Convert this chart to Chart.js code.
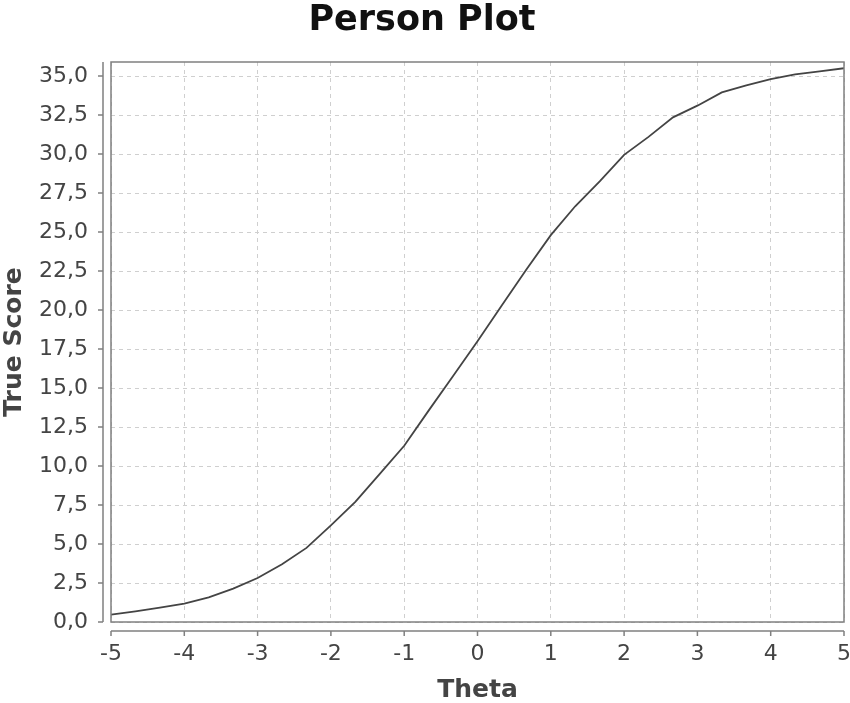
<!DOCTYPE html>
<html>
<head>
<meta charset="utf-8">
<title>Person Plot</title>
<script src="https://cdn.jsdelivr.net/npm/chart.js@4.4.1/dist/chart.umd.min.js"></script>
<style>
  html, body { margin: 0; padding: 0; background: #fff; }
  #wrap { width: 850px; height: 703px; }
</style>
</head>
<body>
<div id="wrap"><canvas id="chart" width="850" height="703"></canvas></div>
<script>
// theta grid (step 1/3) and true score
const theta = [
  -5, -4.667, -4.333, -4, -3.667, -3.333, -3, -2.667, -2.333, -2, -1.667,
  -1.333, -1, -0.667, -0.333, 0, 0.333, 0.667, 1, 1.333, 1.667,
  2, 2.333, 2.667, 3, 3.333, 3.667, 4, 4.333, 4.667, 5
];
const trueScore = [
  0.47, 0.68, 0.92, 1.18, 1.58, 2.14, 2.82, 3.7, 4.75, 6.2, 7.7,
  9.5, 11.3, 13.55, 15.77, 18.0, 20.3, 22.6, 24.8, 26.65, 28.25,
  29.95, 31.1, 32.35, 33.1, 33.95, 34.4, 34.8, 35.1, 35.3, 35.5
];
const xTicks = [-5, -4, -3, -2, -1, 0, 1, 2, 3, 4, 5];
const yTicks = [0, 2.5, 5, 7.5, 10, 12.5, 15, 17.5, 20, 22.5, 25, 27.5, 30, 32.5, 35];

const FONT = 'DejaVu Sans, Verdana, sans-serif';
const fmtComma = v => v.toFixed(1).replace('.', ',');

// JFreeChart-like frame: plot outline plus axis lines set off from the plot
const frameAxes = {
  id: 'frameAxes',
  afterDraw(chart) {
    const { ctx, chartArea: a, scales: { x, y } } = chart;
    ctx.save();
    ctx.strokeStyle = '#808080';
    ctx.lineWidth = 1.5;
    ctx.strokeRect(a.left, a.top, a.right - a.left, a.bottom - a.top);

    // y axis
    const yx = a.left - 8;
    ctx.beginPath();
    ctx.moveTo(yx, a.top);
    ctx.lineTo(yx, a.bottom);
    yTicks.forEach(v => {
      const py = y.getPixelForValue(v);
      ctx.moveTo(yx, py);
      ctx.lineTo(yx - 5, py);
    });
    // x axis
    const xy = a.bottom + 9;
    ctx.moveTo(a.left, xy);
    ctx.lineTo(a.right, xy);
    xTicks.forEach(v => {
      const px = x.getPixelForValue(v);
      ctx.moveTo(px, xy);
      ctx.lineTo(px, xy + 5);
    });
    ctx.stroke();
    ctx.restore();
  }
};

new Chart(document.getElementById('chart'), {
  type: 'line',
  data: {
    datasets: [{
      data: theta.map((t, i) => ({ x: t, y: trueScore[i] })),
      borderColor: '#444',
      borderWidth: 1.8,
      pointRadius: 0,
      tension: 0,
      fill: false
    }]
  },
  options: {
    responsive: false,
    animation: false,
    layout: { padding: { left: 0, right: 6, top: 0, bottom: 0 } },
    plugins: {
      legend: { display: false },
      tooltip: { enabled: false },
      title: {
        display: true,
        text: 'Person Plot',
        color: '#111',
        font: { family: FONT, size: 35, weight: 'bold', lineHeight: 1.2 },
        padding: { top: 0, bottom: 20 }
      }
    },
    scales: {
      x: {
        type: 'linear',
        min: -5,
        max: 5,
        afterBuildTicks: s => { s.ticks = xTicks.map(v => ({ value: v })); },
        afterFit: s => { s.height = 81; s.paddingLeft = 0; s.paddingRight = 0; },
        ticks: {
          color: '#444',
          font: { family: FONT, size: 22 },
          padding: 19,
          maxRotation: 0,
          callback: v => String(v)
        },
        grid: { color: '#cfcfcf', lineWidth: 1, drawTicks: false },
        border: { display: false, dash: [4, 4] },
        title: {
          display: true,
          text: 'Theta',
          color: '#444',
          font: { family: FONT, size: 25, weight: 'bold', lineHeight: 1 },
          padding: 0
        }
      },
      y: {
        type: 'linear',
        min: 0,
        max: 35.9,
        afterBuildTicks: s => { s.ticks = yTicks.map(v => ({ value: v })); },
        afterFit: s => { s.width = 111; s.paddingTop = 0; s.paddingBottom = 0; },
        ticks: {
          color: '#444',
          font: { family: FONT, size: 22 },
          padding: 23,
          callback: v => fmtComma(v)
        },
        grid: { color: '#cfcfcf', lineWidth: 1, drawTicks: false },
        border: { display: false, dash: [4, 4] },
        title: {
          display: true,
          text: 'True Score',
          color: '#444',
          font: { family: FONT, size: 25, weight: 'bold', lineHeight: 1 },
          padding: { top: 2, bottom: 0 }
        }
      }
    }
  },
  plugins: [frameAxes]
});
</script>
</body>
</html>
